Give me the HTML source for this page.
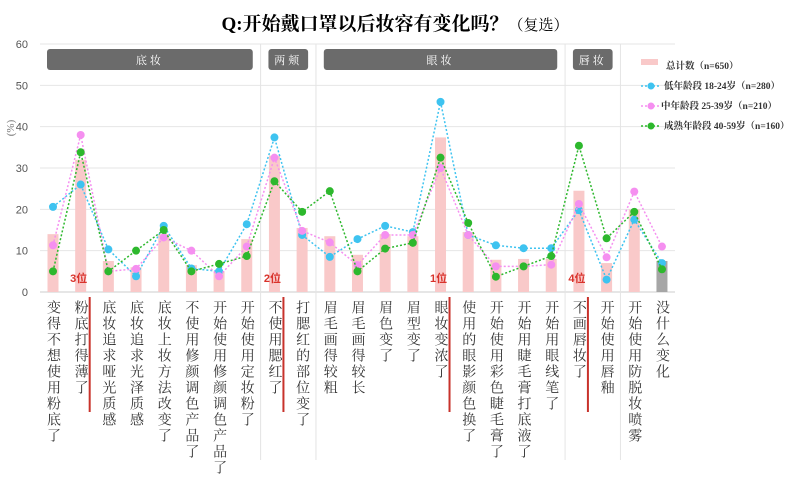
<!DOCTYPE html>
<html><head><meta charset="utf-8"><style>
body{margin:0;background:#fff;width:800px;height:481px;overflow:hidden;font-family:"Liberation Serif","Noto Serif CJK SC",serif}
</style></head><body>
<svg width="800" height="481" xmlns="http://www.w3.org/2000/svg">
<text x="395" y="30" text-anchor="middle" font-size="19" font-weight="bold" font-family="Liberation Serif,Noto Serif CJK SC,serif">Q:开始戴口罩以后妆容有变化吗？<tspan font-size="15" font-weight="normal">（复选）</tspan></text>
<g id="grid"></g>
<g id="groups"></g>
<g id="bars"></g>
<g id="lines"></g>
<g id="labels"></g>
<g id="legend"></g>
</svg>
<script>
const categories=["变得不想使用粉底了","粉底打得薄了","底妆追求哑光质感","底妆追求光泽质感","底妆上妆方法改变了","不使用修颜调色产品了","开始使用修颜调色产品了","开始使用定妆粉了","不使用腮红了","打腮红的部位变了","眉毛画得较粗","眉毛画得较长","眉色变了","眉型变了","眼妆变浓了","使用的眼影颜色换了","开始使用彩色睫毛膏了","开始用睫毛膏打底液了","开始用眼线笔了","不画唇妆了","开始使用唇釉","开始使用防脱妆喷雾","没什么变化"];
const totalValues=[14,32,7.5,6,14,6.5,5,12.8,33,15.5,13.5,9,14,13.5,37.4,14.5,7.8,8,8,24.5,7,20,7.5];
const youngValues=[20.6,26,10.3,3.8,16,5.7,5,16.4,37.4,13.8,8.5,12.8,16,14.5,46,13.8,11.3,10.6,10.6,19.8,3,17.5,7];
const middleValues=[11.3,38,5,5.6,13.2,10,3.8,11,32.5,14.8,12,6.5,13.8,13.8,30,13.8,6.2,6.2,6.6,21.3,8.4,24.3,11];
const matureValues=[5,33.8,5,10,15,5,6.8,8.7,26.8,19.4,24.4,5,10.5,11.9,32.5,16.7,3.7,6.2,8.7,35.4,13,19.4,5.5];
const yTicks=[0,10,20,30,40,50,60];
const rankLabels=[[1,"3位"],[8,"2位"],[14,"1位"],[19,"4位"]];
const groupNames=[["底妆",0,7],["两颊",8,9],["眼妆",10,18],["唇妆",19,20]];
const legendLabels=["总计数（n=650）","低年龄段 18-24岁（n=280）","中年龄段  25-39岁（n=210）","成熟年龄段  40-59岁（n=160）"];

const NS="http://www.w3.org/2000/svg";
const X0=53,STEP=27.68,Y0=292,PPU=4.133;
const x=i=>X0+i*STEP, y=v=>Y0-v*PPU;
function mk(tag,attrs,parent,txt){const e=document.createElementNS(NS,tag);for(const k in attrs)e.setAttribute(k,attrs[k]);if(txt!==undefined)e.textContent=txt;parent.appendChild(e);return e;}
const G=id=>document.getElementById(id);

// grid & y axis
yTicks.forEach(t=>{
  const l=mk('line',{x1:40,x2:675,y1:y(t),y2:y(t),stroke:t===0?'#ccc':'#e6e6e6','stroke-width':1},G('grid'));
  
  
  const tx=mk('text',{x:28,y:y(t)+4,'text-anchor':'end','font-size':11,fill:'#555','font-family':'Liberation Sans,sans-serif'},G('grid'),String(t));
  
  
});
const yt=mk('text',{x:0,y:0,transform:'translate(14,128) rotate(-90)','text-anchor':'middle','font-size':11,fill:'#777'},G('grid'),'(%)');



// group separators and headers
[7.5,9.5,18.5,20.5].forEach((s,k)=>{
  const l=mk('line',{x1:x(s),x2:x(s),y1:44,y2:460,stroke:'#e4e4e4','stroke-width':1},G('groups'));
  
  
});
groupNames.forEach(([n,a,b])=>{
  const r=mk('rect',{x:x(a)-6,y:49,width:x(b)-x(a)+12,height:21,rx:3,fill:'#6b6b6b'},G('groups'));
  
  
  const t=mk('text',{x:(x(a)+x(b))/2,y:64,'text-anchor':'middle','font-size':11,fill:'#fff','letter-spacing':3},G('groups'),n);
  
  
});

// bars
totalValues.forEach((v,i)=>{
  const last=i===totalValues.length-1;
  const r=mk('rect',{x:x(i)-5.5,y:y(v),width:11,height:Y0-y(v),fill:last?'#a6a6a6':'#f9c9c9'},G('bars'));
  
  
});

// lines
const series=[[youngValues,'#3ec3f0','young'],[middleValues,'#f58ff0','middle'],[matureValues,'#2db82d','mature']];
series.forEach(([vals,c,n])=>{
  const p=mk('polyline',{points:vals.map((v,i)=>x(i)+','+y(v)).join(' '),fill:'none',stroke:c,'stroke-width':1.5,'stroke-dasharray':'2,2'},G('lines'));
  
  
  vals.forEach((v,i)=>{
    const d=mk('circle',{cx:x(i),cy:y(v),r:4,fill:c},G('lines'));
    
    
  });
});

// ranks
rankLabels.forEach(([i,t])=>{
  const e=mk('text',{x:x(i)-2,y:282,'text-anchor':'middle','font-size':11,'font-weight':'bold',fill:'#d9322b','font-family':'Liberation Sans,Noto Sans CJK SC,sans-serif'},G('labels'),t);
  
  
  const l=mk('line',{x1:x(i)+9,x2:x(i)+9,y1:297,y2:412,stroke:'#c8322b','stroke-width':2},G('labels'));
  
  
});

// category labels
categories.forEach((c,i)=>{
  const t=mk('text',{x:x(i)+1,y:300,'font-size':14,fill:'#333','writing-mode':'tb','glyph-orientation-vertical':0,'letter-spacing':2,style:'writing-mode:vertical-rl;text-orientation:upright','font-family':'Noto Serif CJK SC,serif'},G('labels'),c);
  
  
});

// legend
const L=G('legend');
const lr=mk('rect',{x:641,y:59,width:17,height:6,fill:'#f9c9c9'},L);


series.forEach(([v,c,n],k)=>{
  const yy=86+k*20;
  const l=mk('line',{x1:641,x2:660,y1:yy,y2:yy,stroke:c,'stroke-width':1.5,'stroke-dasharray':'2,2'},L);
  
  
  const d=mk('circle',{cx:651,cy:yy,r:3.5,fill:c},L);
  
  
});
legendLabels.forEach((s,k)=>{
  const t=mk('text',{x:k===0?666:(k===2?661:664),y:69+k*20,'font-size':9.5,'font-weight':'bold',fill:'#333'},L,s);
  
  
});
</script>
</body></html>
